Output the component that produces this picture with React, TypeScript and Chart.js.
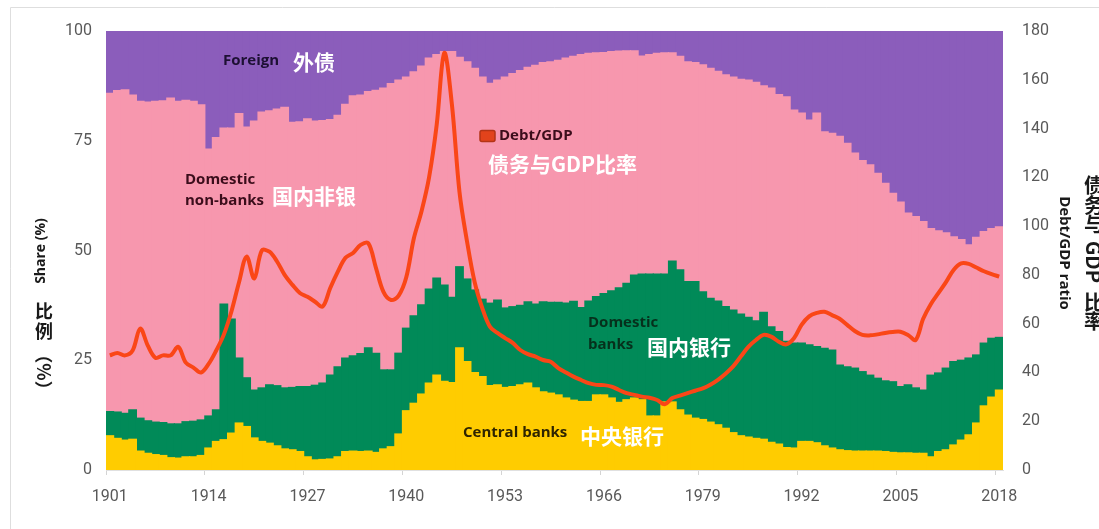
import { useEffect, useRef } from 'react';
import { Chart, registerables } from 'chart.js';

Chart.register(...registerables);

const years = [
  '1901','1902','1903','1904','1905','1906','1907','1908','1909','1910',
  '1911','1912','1913','1914','1915','1916','1917','1918','1919','1920',
  '1921','1922','1923','1924','1925','1926','1927','1928','1929','1930',
  '1931','1932','1933','1934','1935','1936','1937','1938','1939','1940',
  '1941','1942','1943','1944','1945','1946','1947','1948','1949','1950',
  '1951','1952','1953','1954','1955','1956','1957','1958','1959','1960',
  '1961','1962','1963','1964','1965','1966','1967','1968','1969','1970',
  '1971','1972','1973','1974','1975','1976','1977','1978','1979','1980',
  '1981','1982','1983','1984','1985','1986','1987','1988','1989','1990',
  '1991','1992','1993','1994','1995','1996','1997','1998','1999','2000',
  '2001','2002','2003','2004','2005','2006','2007','2008','2009','2010',
  '2011','2012','2013','2014','2015','2016','2017','2018',
];

const tickYears = ['1901', '1914', '1927', '1940', '1953', '1966', '1979', '1992', '2005', '2018'];

// Share held by central banks (%)
const centralBanks = [
  7.8, 7.2, 6.8, 7.0, 4.3, 3.8, 3.5, 3.3, 2.8, 2.7,
  3.0, 3.0, 3.3, 5.0, 6.5, 6.9, 8.4, 10.7, 9.9, 7.3,
  6.5, 6.1, 5.5, 4.8, 4.6, 4.2, 3.0, 2.3, 2.4, 2.5,
  3.0, 4.2, 4.3, 4.2, 4.3, 4.0, 4.8, 5.3, 8.2, 13.5,
  15.2, 17.3, 19.8, 21.6, 20.2, 19.9, 27.8, 24.7, 22.2, 21.3,
  19.2, 19.4, 18.8, 19.0, 19.4, 19.8, 18.7, 17.8, 17.5, 17.1,
  16.4, 15.9, 15.6, 15.6, 17.1, 17.1, 16.4, 15.4, 16.0, 16.4,
  16.0, 12.3, 12.3, 15.5, 15.5, 13.7, 12.5, 11.8, 11.5, 10.9,
  10.3, 9.5, 8.5, 7.8, 7.5, 7.2, 7.0, 6.3, 5.9, 5.1,
  5.0, 6.5, 6.5, 6.2, 5.5, 5.0, 4.6, 4.4, 4.3, 4.3,
  4.3, 4.3, 4.2, 4.0, 3.9, 3.9, 3.8, 3.8, 3.0, 4.2,
  4.6, 5.7, 6.8, 8.0, 10.7, 14.6, 16.6, 18.2,
];

// Cumulative share: central banks + domestic banks (%)
const banksCumulative = [
  13.3, 13.2, 12.9, 13.7, 11.8, 11.2, 10.9, 10.8, 10.5, 10.5,
  11.0, 11.1, 11.4, 12.3, 13.7, 37.8, 34.4, 25.5, 21.0, 18.2,
  18.7, 19.4, 19.2, 18.7, 18.8, 19.0, 19.0, 19.3, 19.8, 21.6,
  23.5, 25.5, 26.0, 26.5, 27.8, 26.6, 22.8, 22.8, 26.6, 32.3,
  35.1, 37.6, 41.2, 43.7, 42.1, 39.3, 46.3, 43.5, 41.0, 38.9,
  38.0, 38.7, 36.9, 37.2, 37.5, 38.3, 37.8, 38.3, 38.2, 38.2,
  38.0, 38.4, 37.0, 38.5, 39.5, 40.2, 40.8, 41.5, 42.5, 44.4,
  44.6, 44.6, 44.6, 44.6, 47.6, 45.6, 42.9, 42.9, 40.6, 39.1,
  38.5, 37.2, 36.4, 35.5, 34.8, 34.0, 35.9, 32.6, 31.5, 29.3,
  28.9, 28.9, 28.5, 28.1, 27.7, 27.3, 23.9, 23.5, 23.2, 22.4,
  21.6, 20.9, 20.3, 20.1, 19.0, 19.4, 18.7, 18.2, 21.6, 22.1,
  23.2, 24.7, 25.0, 25.5, 26.2, 28.9, 30.0, 30.2,
];

// Cumulative share: central banks + domestic banks + domestic non-banks (%)
const domesticCumulative = [
  85.8, 86.4, 86.6, 85.4, 84.0, 83.8, 84.0, 84.1, 84.7, 84.0,
  84.2, 84.0, 83.2, 73.1, 75.7, 77.9, 77.9, 81.2, 78.1, 79.5,
  81.5, 81.8, 82.2, 82.6, 79.2, 79.3, 80.0, 79.5, 79.6, 79.8,
  80.8, 83.3, 85.2, 85.4, 86.2, 86.5, 87.0, 88.0, 88.8, 89.5,
  90.7, 92.0, 93.8, 94.6, 95.3, 95.3, 94.0, 93.0, 91.5, 89.5,
  88.1, 88.8, 89.5, 90.3, 91.0, 91.7, 92.2, 92.8, 93.0, 93.3,
  93.8, 94.2, 94.6, 94.9, 95.0, 95.1, 95.3, 95.4, 95.5, 95.5,
  94.3, 94.6, 94.9, 95.0, 95.0, 94.2, 93.0, 92.8, 92.3, 91.5,
  90.8, 90.0, 89.5, 89.0, 88.8, 88.3, 87.5, 87.0, 85.5, 85.0,
  82.0, 81.3, 79.7, 81.3, 77.0, 76.7, 76.0, 74.4, 72.2, 70.5,
  69.5, 67.6, 65.3, 63.0, 61.0, 58.5, 57.7, 56.6, 55.0, 54.5,
  54.0, 53.1, 52.5, 51.3, 53.0, 54.3, 55.0, 55.4,
];

// Debt / GDP ratio (%)
const debtToGdp = [
  47, 48, 47, 49, 58, 51, 46, 47, 47, 50.5,
  44, 42, 40, 43.5, 49, 55.5, 65, 77, 87.5, 78.5,
  90, 89.5, 85.5, 80, 76, 72.6, 71, 69, 67, 74.6,
  81.3, 87, 89, 92.3, 93, 83, 73, 69.7, 71.5, 79,
  95, 106, 120, 141.5, 171, 150, 114, 93.6, 77, 66.4,
  58.8, 56.2, 54.1, 52.1, 49.2, 47.5, 46.5, 45.1, 44.4, 41.8,
  40, 38.3, 36.9, 35.6, 34.9, 34.8, 34.2, 32.8, 31.5, 30.8,
  30.1, 29.6, 28.7, 27, 29.5, 30.5, 31.5, 32.5, 33.5, 35,
  37, 39.5, 42.5, 46.5, 50.5, 53.3, 55.4, 54.7, 52.6, 51.5,
  54, 59.5, 63, 64.4, 64.9, 63.5, 62, 59.5, 57, 55.4,
  55.2, 55.6, 56.2, 56.6, 56.7, 55.4, 53.3, 62, 68, 72.5,
  77, 82, 84.7, 84.5, 83, 81.5, 80.3, 79.3,
];

const shareTicks = [0, 25, 50, 75, 100];
const ratioTicks = [0, 20, 40, 60, 80, 100, 120, 140, 160, 180];

const COLORS = {
  central: '#ffcc00',
  banks: '#018a58',
  nonBanks: '#f797ae',
  foreign: '#8b5dbb',
  line: '#fa4617',
};

const round1 = (v: number) => Math.round(v * 100) / 100;

const annotationPlugin = {
  id: 'annotations',
  beforeDraw(chart: any) {
    const { ctx, width, height } = chart;
    ctx.save();
    ctx.fillStyle = '#ffffff';
    ctx.fillRect(0, 0, width, height);
    ctx.strokeStyle = '#dedede';
    ctx.lineWidth = 1;
    ctx.beginPath();
    ctx.moveTo(10.5, height);
    ctx.lineTo(10.5, 7.5);
    ctx.lineTo(width, 7.5);
    ctx.stroke();
    ctx.restore();
  },
  afterDatasetsDraw(chart: any) {
    const { ctx } = chart;
    const en = 'bold 15px "Open Sans"';
    const cjk = 'bold 21px "Noto Sans CJK SC"';
    const put = (s: string, x: number, y: number, font: string, color: string) => {
      ctx.font = font;
      ctx.fillStyle = color;
      ctx.textAlign = 'left';
      ctx.textBaseline = 'middle';
      ctx.fillText(s, x, y);
    };
    ctx.save();
    put('Foreign', 223, 61, en, '#1d1033');
    put('外债', 293, 62, cjk, '#ffffff');

    put('Domestic', 185, 180, en, '#3b0d1b');
    put('non-banks', 185, 201, en, '#3b0d1b');
    put('国内非银', 272, 196, cjk, '#ffffff');

    // legend key for Debt/GDP
    ctx.fillStyle = '#e2431b';
    ctx.strokeStyle = '#b33416';
    ctx.lineWidth = 1.5;
    ctx.beginPath();
    if (ctx.roundRect) ctx.roundRect(480, 130.5, 15, 11, 2);
    else ctx.rect(480, 130.5, 15, 11);
    ctx.fill();
    ctx.stroke();
    put('Debt/GDP', 499, 136, en, '#3b0d1b');
    put('债务与GDP比率', 488, 164, cjk, '#ffffff');

    put('Domestic', 588, 323, en, '#06301c');
    put('banks', 588, 345, en, '#06301c');
    put('国内银行', 647, 347, cjk, '#ffffff');

    put('Central banks', 463, 433, en, '#2e2400');
    put('中央银行', 580, 436, cjk, '#ffffff');
    ctx.restore();
  },
  afterDraw(chart: any) {
    const { ctx } = chart;
    ctx.save();
    ctx.fillStyle = '#1a1a1a';
    ctx.textAlign = 'center';
    ctx.textBaseline = 'middle';

    // left axis titles
    ctx.font = 'bold 14px "Open Sans"';
    ctx.save();
    ctx.translate(41, 251);
    ctx.rotate(-Math.PI / 2);
    ctx.fillText('Share (%)', 0, 0);
    ctx.restore();

    ctx.font = 'bold 18px "Noto Sans CJK SC"';
    ctx.fillText('比', 44, 311);
    ctx.fillText('例', 44, 331);
    ctx.save();
    ctx.translate(44, 372);
    ctx.rotate(Math.PI / 2);
    ctx.fillText('（%）', 0, 0);
    ctx.restore();

    // right axis titles
    ctx.font = 'bold 15px "Open Sans"';
    ctx.save();
    ctx.translate(1064, 253);
    ctx.rotate(Math.PI / 2);
    ctx.fillText('Debt/GDP ratio', 0, 0);
    ctx.restore();

    ctx.font = 'bold 20px "Noto Sans CJK SC"';
    ctx.fillText('债', 1094, 185);
    ctx.fillText('务', 1094, 205);
    ctx.fillText('与', 1094, 224);
    ctx.save();
    ctx.translate(1094, 262);
    ctx.rotate(Math.PI / 2);
    ctx.fillText('GDP', 0, 0);
    ctx.restore();
    ctx.fillText('比', 1094, 302);
    ctx.fillText('率', 1094, 321);
    ctx.restore();
  },
};

export default function App() {
  const canvasRef = useRef<HTMLCanvasElement | null>(null);

  useEffect(() => {
    document.body.style.margin = '0';
    const canvas = canvasRef.current;
    if (!canvas) return;

    const banksShare = banksCumulative.map((v, i) => round1(v - centralBanks[i]));
    const nonBanksShare = domesticCumulative.map((v, i) => round1(v - banksCumulative[i]));
    const foreignShare = domesticCumulative.map((v) => round1(100 - v));

    const tickFont = { family: 'Roboto', size: 16 };

    const chart = new Chart(canvas, {
      type: 'bar',
      data: {
        labels: years,
        datasets: [
          {
            type: 'line',
            label: 'Debt/GDP',
            data: debtToGdp,
            yAxisID: 'y1',
            borderColor: COLORS.line,
            borderWidth: 4,
            pointRadius: 0,
            tension: 0.35,
            fill: false,
            order: 0,
          } as any,
          {
            label: 'Central banks',
            data: centralBanks,
            backgroundColor: COLORS.central,
            yAxisID: 'y',
            order: 1,
          },
          {
            label: 'Domestic banks',
            data: banksShare,
            backgroundColor: COLORS.banks,
            yAxisID: 'y',
            order: 1,
          },
          {
            label: 'Domestic non-banks',
            data: nonBanksShare,
            backgroundColor: COLORS.nonBanks,
            yAxisID: 'y',
            order: 1,
          },
          {
            label: 'Foreign',
            data: foreignShare,
            backgroundColor: COLORS.foreign,
            yAxisID: 'y',
            order: 1,
          },
        ],
      },
      options: {
        responsive: false,
        animation: false,
        events: [],
        layout: { padding: { top: 31, left: 0, right: 0, bottom: 0 } },
        datasets: {
          bar: {
            barPercentage: 1,
            categoryPercentage: 1,
            borderWidth: 0,
            inflateAmount: 0.6,
          },
        },
        plugins: {
          legend: { display: false },
          tooltip: { enabled: false },
        },
        scales: {
          x: {
            type: 'category',
            stacked: true,
            offset: true,
            grid: {
              offset: true,
              drawOnChartArea: false,
              drawTicks: true,
              tickLength: 5,
              color: (c: any) =>
                c.index !== undefined && tickYears.includes(years[c.index]) ? '#d4d4d4' : 'rgba(0,0,0,0)',
            },
            border: { display: true, color: '#e0e0e0' },
            ticks: {
              autoSkip: false,
              maxRotation: 0,
              minRotation: 0,
              color: '#595959',
              font: tickFont,
              padding: 12,
              callback: (_v: any, i: number) => (tickYears.includes(years[i]) ? years[i] : ''),
            },
            afterFit: (s: any) => {
              s.height = 59;
            },
          },
          y: {
            type: 'linear',
            position: 'left',
            stacked: true,
            min: 0,
            max: 100,
            afterBuildTicks: (s: any) => {
              s.ticks = shareTicks.map((v) => ({ value: v }));
            },
            ticks: { color: '#595959', font: tickFont, padding: 14 },
            grid: { display: false, drawTicks: false },
            border: { display: false },
            afterFit: (s: any) => {
              s.width = 106;
            },
          },
          y1: {
            type: 'linear',
            position: 'right',
            min: 0,
            max: 180,
            afterBuildTicks: (s: any) => {
              s.ticks = ratioTicks.map((v) => ({ value: v }));
            },
            ticks: { color: '#595959', font: tickFont, padding: 19 },
            grid: { display: false, drawTicks: false },
            border: { display: false },
            afterFit: (s: any) => {
              s.width = 96;
            },
          },
        },
      } as any,
      plugins: [annotationPlugin],
    });

    return () => chart.destroy();
  }, []);

  return (
    <div style={{ width: 1099, height: 529, position: 'relative' }}>
      <canvas ref={canvasRef} width={1099} height={529} style={{ display: 'block' }} />
    </div>
  );
}
